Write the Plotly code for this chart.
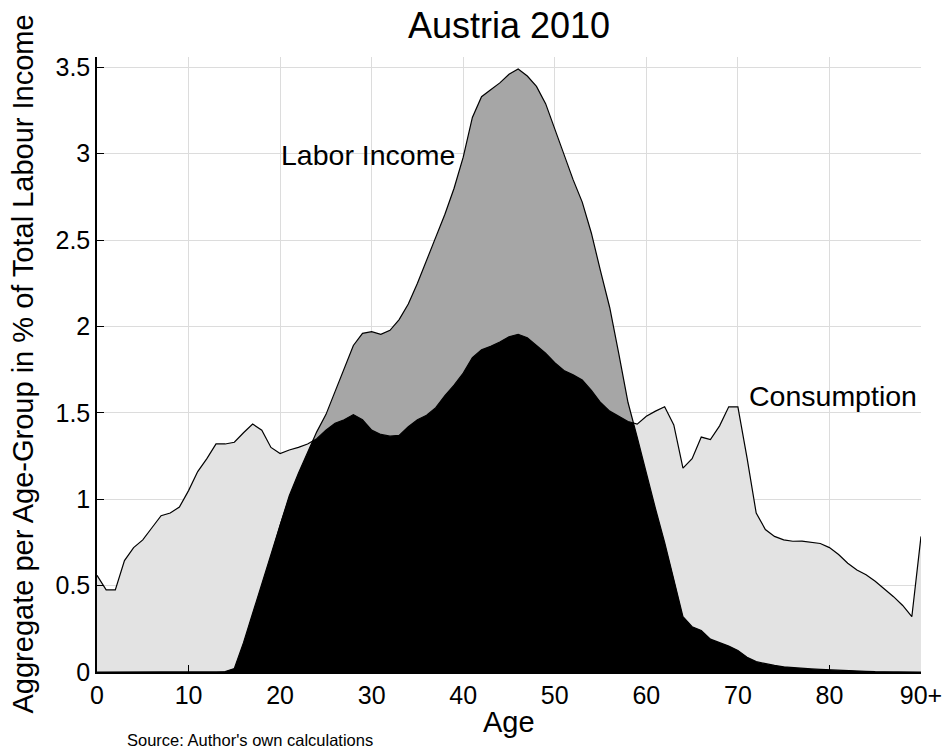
import plotly.graph_objects as go

# Age groups 0..90 (90 stands for 90+)
ages = list(range(0, 91))
x_tick_vals = [0, 10, 20, 30, 40, 50, 60, 70, 80, 90]
x_tick_text = ["0", "10", "20", "30", "40", "50", "60", "70", "80", "90+"]
y_tick_vals = [0, 0.5, 1, 1.5, 2, 2.5, 3, 3.5]
y_tick_text = ["0", "0.5", "1", "1.5", "2", "2.5", "3", "3.5"]

# Aggregate consumption per age group, % of total labour income
consumption = [
    0.56, 0.475, 0.475, 0.645, 0.72, 0.765, 0.835, 0.905, 0.92, 0.955,
    1.05, 1.16, 1.235, 1.32, 1.32, 1.33, 1.385, 1.435, 1.40, 1.30,
    1.265, 1.285, 1.30, 1.32, 1.35, 1.40, 1.44, 1.46, 1.49, 1.46,
    1.40, 1.375, 1.365, 1.37, 1.42, 1.46, 1.486, 1.53, 1.60, 1.66,
    1.73, 1.82, 1.865, 1.885, 1.91, 1.94, 1.955, 1.935, 1.89, 1.845,
    1.79, 1.745, 1.72, 1.69, 1.63, 1.56, 1.51, 1.48, 1.45, 1.435,
    1.48, 1.51, 1.535, 1.43, 1.18, 1.235, 1.36, 1.345, 1.425, 1.535,
    1.535, 1.24, 0.92, 0.825, 0.785, 0.765, 0.757, 0.758, 0.752, 0.744,
    0.72, 0.68, 0.63, 0.59, 0.563, 0.525, 0.48, 0.436, 0.385, 0.32,
    0.785,
]

# Aggregate labour income per age group, % of total labour income
labor_income = [
    0, 0, 0, 0, 0, 0, 0, 0, 0, 0,
    0, 0, 0, 0, 0.003, 0.02, 0.17, 0.34, 0.51, 0.68,
    0.86, 1.02, 1.15, 1.27, 1.39, 1.49, 1.62, 1.756, 1.89, 1.96,
    1.97, 1.955, 1.978, 2.04, 2.13, 2.25, 2.38, 2.51, 2.65, 2.80,
    2.98, 3.21, 3.33, 3.37, 3.41, 3.46, 3.49, 3.45, 3.39, 3.29,
    3.14, 2.99, 2.85, 2.72, 2.54, 2.32, 2.11, 1.84, 1.56, 1.36,
    1.15, 0.945, 0.75, 0.54, 0.32, 0.262, 0.24, 0.19, 0.17, 0.15,
    0.125, 0.085, 0.06, 0.048, 0.038, 0.03, 0.025, 0.021, 0.018, 0.015,
    0.012, 0.01, 0.008, 0.006, 0.004, 0.002, 0.001, 0, 0, 0,
    0,
]

# Overlap of the two profiles: pointwise minimum, with exact crossing points inserted
ov_x, ov_y = [], []
for i in range(len(ages)):
    ov_x.append(ages[i])
    ov_y.append(min(consumption[i], labor_income[i]))
    if i + 1 < len(ages):
        d0 = labor_income[i] - consumption[i]
        d1 = labor_income[i + 1] - consumption[i + 1]
        if d0 * d1 < 0:
            t = d0 / (d0 - d1)
            ov_x.append(ages[i] + t * (ages[i + 1] - ages[i]))
            ov_y.append(consumption[i] + t * (consumption[i + 1] - consumption[i]))

FONT = "Liberation Sans, Arial, Helvetica, sans-serif"

fig = go.Figure()
fig.add_trace(go.Scatter(x=ages, y=consumption, fill="tozeroy", mode="none",
                         fillcolor="#e3e3e3", hoverinfo="skip"))
fig.add_trace(go.Scatter(x=ages, y=labor_income, fill="tozeroy", mode="none",
                         fillcolor="#a6a6a6", hoverinfo="skip"))
fig.add_trace(go.Scatter(x=ov_x, y=ov_y, fill="tozeroy", mode="none",
                         fillcolor="#000000", hoverinfo="skip"))
fig.add_trace(go.Scatter(x=ages, y=consumption, mode="lines",
                         line=dict(color="black", width=1.2), name="Consumption"))
fig.add_trace(go.Scatter(x=ages, y=labor_income, mode="lines",
                         line=dict(color="black", width=1.2), name="Labor Income"))

L, R, T, B = 97, 21, 57, 78
W, H = 942, 750
pw, ph = W - L - R, H - T - B

fig.update_layout(
    width=W, height=H,
    margin=dict(l=L, r=R, t=T, b=B, autoexpand=False),
    paper_bgcolor="white", plot_bgcolor="white",
    showlegend=False,
    font=dict(family=FONT, color="black"),
    title=dict(text="Austria 2010", x=(L + pw / 2) / W, xanchor="center",
               y=1 - 25 / H, yanchor="middle", font=dict(size=36, family=FONT)),
    xaxis=dict(range=[0, 90], tickvals=x_tick_vals, ticktext=x_tick_text,
               ticks="inside", ticklen=7, tickcolor="black", automargin=False,
               ticklabeloverflow="allow",
               showline=True, linecolor="black", linewidth=1.5,
               showgrid=True, gridcolor="#dcdcdc", gridwidth=1,
               zeroline=False, tickfont=dict(size=25, family=FONT)),
    yaxis=dict(range=[0, 3.56], tickvals=y_tick_vals, ticktext=y_tick_text,
               ticks="inside", ticklen=7, tickcolor="black", automargin=False,
               ticklabeloverflow="allow",
               showline=True, linecolor="black", linewidth=1.5,
               showgrid=True, gridcolor="#dcdcdc", gridwidth=1,
               zeroline=False, tickfont=dict(size=25, family=FONT)),
    annotations=[
        dict(text="Labor Income", x=29.6, y=2.99, xref="x", yref="y",
             showarrow=False, font=dict(size=28.5, family=FONT)),
        dict(text="Consumption", x=80.4, y=1.6, xref="x", yref="y",
             showarrow=False, font=dict(size=28.5, family=FONT)),
        dict(text="Age", x=0.5, y=(672 - 722) / ph, xref="paper", yref="paper",
             xanchor="center", yanchor="middle", showarrow=False,
             font=dict(size=29, family=FONT)),
        dict(text="Aggregate per Age-Group in % of Total Labour Income",
             x=(22 - L) / pw, y=0.5, xref="paper", yref="paper",
             xanchor="center", yanchor="middle", textangle=-90, showarrow=False,
             font=dict(size=29, family=FONT)),
        dict(text="Source: Author's own calculations", x=(125 - L) / pw,
             y=(672 - 740) / ph, xref="paper", yref="paper",
             xanchor="left", yanchor="middle", showarrow=False,
             font=dict(size=16.5, family=FONT)),
    ],
)

fig.write_html("out.html")
